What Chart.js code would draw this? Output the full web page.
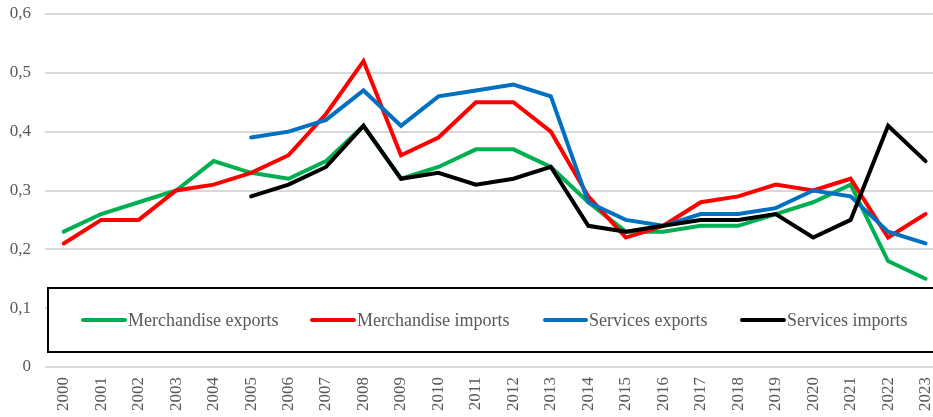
<!DOCTYPE html>
<html>
<head>
<meta charset="utf-8">
<script src="https://cdn.jsdelivr.net/npm/chart.js@4.4.1/dist/chart.umd.min.js"></script>
<style>
  html, body { margin: 0; padding: 0; background: #fff; overflow: hidden; }
  #wrap { width: 933px; height: 417px; overflow: hidden; }
</style>
</head>
<body>
<div id="wrap"><canvas id="tradeChart" width="956" height="417"></canvas></div>
<script>
'use strict';

const years = ['2000', '2001', '2002', '2003', '2004', '2005', '2006', '2007', '2008', '2009', '2010', '2011',
    '2012', '2013', '2014', '2015', '2016', '2017', '2018', '2019', '2020', '2021', '2022', '2023'];

const merchExports = [0.23, 0.26, 0.28, 0.30, 0.35, 0.33, 0.32, 0.35, 0.41, 0.32, 0.34, 0.37,
    0.37, 0.34, 0.28, 0.23, 0.23, 0.24, 0.24, 0.26, 0.28, 0.31, 0.18, 0.15];
const merchImports = [0.21, 0.25, 0.25, 0.30, 0.31, 0.33, 0.36, 0.43, 0.52, 0.36, 0.39, 0.45,
    0.45, 0.40, 0.29, 0.22, 0.24, 0.28, 0.29, 0.31, 0.30, 0.32, 0.22, 0.26];
const servExports = [null, null, null, null, null, 0.39, 0.40, 0.42, 0.47, 0.41, 0.46, 0.47,
    0.48, 0.46, 0.28, 0.25, 0.24, 0.26, 0.26, 0.27, 0.30, 0.29, 0.23, 0.21];
const servImports = [null, null, null, null, null, 0.29, 0.31, 0.34, 0.41, 0.32, 0.33, 0.31,
    0.32, 0.34, 0.24, 0.23, 0.24, 0.25, 0.25, 0.26, 0.22, 0.25, 0.41, 0.35];

const seriesNames = ['Merchandise exports', 'Merchandise imports', 'Services exports', 'Services imports'];
const seriesColors = ['#00b050', '#ff0000', '#0070c0', '#000000'];

const textGrey = '#595959';
const fontFamily = '"Liberation Serif", "Times New Roman", serif';

// legend sits inside the plot, in a framed box (as in the source)
const boxLegend = {
    id: 'boxLegend',
    afterDatasetsDraw(chart) {
        const ctx = chart.ctx;
        const left = 48, top = 288, bottom = 352;
        const items = [
            { x1: 83, x2: 125, tx: 128 },
            { x1: 312, x2: 354, tx: 357 },
            { x1: 545, x2: 586, tx: 589 },
            { x1: 742, x2: 784, tx: 787 }
        ];
        ctx.save();
        ctx.fillStyle = '#ffffff';
        ctx.fillRect(left, top, chart.width - left + 5, bottom - top);
        ctx.strokeStyle = '#000000';
        ctx.lineWidth = 2;
        ctx.strokeRect(left, top, chart.width - left + 5, bottom - top);
        const cy = 320;
        ctx.font = '18px ' + fontFamily;
        ctx.textBaseline = 'middle';
        ctx.textAlign = 'left';
        items.forEach(function (it, i) {
            ctx.strokeStyle = seriesColors[i];
            ctx.lineWidth = 4;
            ctx.lineCap = 'round';
            ctx.beginPath();
            ctx.moveTo(it.x1, cy);
            ctx.lineTo(it.x2, cy);
            ctx.stroke();
            ctx.fillStyle = textGrey;
            ctx.fillText(seriesNames[i], it.tx, cy + 1);
        });
        ctx.restore();
    }
};

function makeSet(i, values, order) {
    return {
        label: seriesNames[i],
        data: values,
        borderColor: seriesColors[i],
        backgroundColor: seriesColors[i],
        borderWidth: 4,
        pointRadius: 0,
        tension: 0,
        borderJoinStyle: 'miter',
        borderCapStyle: 'round',
        spanGaps: false,
        order: order
    };
}

const ctx = document.getElementById('tradeChart').getContext('2d');
const chart = new Chart(ctx, {
    type: 'line',
    data: {
        labels: years,
        datasets: [
            makeSet(0, merchExports, 3),
            makeSet(1, merchImports, 2),
            makeSet(2, servExports, 1),
            makeSet(3, servImports, 0)
        ]
    },
    options: {
        responsive: false,
        animation: false,
        layout: { padding: { top: 14, right: 2, left: 0, bottom: 0 } },
        plugins: {
            legend: { display: false },
            tooltip: { enabled: false }
        },
        scales: {
            x: {
                offset: true,
                grid: { display: false, drawTicks: false },
                border: { display: false },
                afterFit: function (scale) {
                    scale.height = 50;
                    scale.paddingTop = 0;
                    scale.paddingBottom = 0;
                },
                ticks: {
                    color: textGrey,
                    font: { family: fontFamily, size: 17 },
                    minRotation: 90,
                    maxRotation: 90,
                    autoSkip: false,
                    padding: 10
                }
            },
            y: {
                min: 0,
                max: 0.6,
                afterFit: function (scale) {
                    scale.width = 45;
                    scale.paddingTop = 0;
                    scale.paddingBottom = 0;
                },
                grid: { color: '#d9d9d9', lineWidth: 2, drawTicks: false },
                border: { display: false },
                ticks: {
                    stepSize: 0.1,
                    color: textGrey,
                    font: { family: fontFamily, size: 17 },
                    padding: 14,
                    callback: function (v) {
                        return v === 0 ? '0' : v.toFixed(1).replace('.', ',');
                    }
                }
            }
        }
    },
    plugins: [boxLegend]
});
</script>
</body>
</html>
